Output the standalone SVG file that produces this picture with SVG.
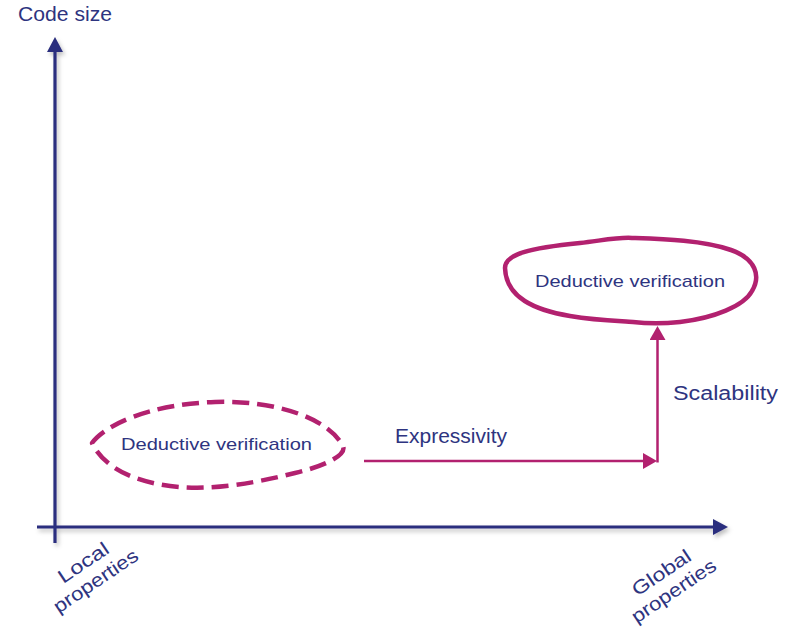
<svg xmlns="http://www.w3.org/2000/svg" width="790" height="631" viewBox="0 0 790 631">
  <style>
    .axis { fill: none; stroke: #2b2f7e; stroke-width: 3.2; }
    .conn { fill: none; stroke: #b2216f; stroke-width: 2.5; }
    .blob { fill: none; stroke: #b2216f; stroke-width: 4.5; stroke-linejoin: round; }
    .dashed { stroke-dasharray: 17 8; }
    .lbl { font-family: "Liberation Sans", Arial, sans-serif; fill: #2e3480; }
  </style>
  <defs>
    <filter id="shadow" x="-10%" y="-10%" width="120%" height="120%">
      <feDropShadow dx="2" dy="3" stdDeviation="2" flood-color="#000" flood-opacity="0.25"/>
    </filter>
    <marker id="axisHead" markerUnits="userSpaceOnUse" markerWidth="16" markerHeight="17" refX="5" refY="8" orient="auto">
      <path d="M0,0 L15,8 L0,16 Z" fill="#2b2f7e"/>
    </marker>
    <marker id="connHead" markerUnits="userSpaceOnUse" markerWidth="16" markerHeight="17" refX="4" refY="8" orient="auto">
      <path d="M0,0 L14,8 L0,16 Z" fill="#b2216f"/>
    </marker>
  </defs>

  <!-- axes -->
  <g id="axes" filter="url(#shadow)">
    <path class="axis" d="M55,543 V47" marker-end="url(#axisHead)"/>
    <path class="axis" d="M37,527 H718" marker-end="url(#axisHead)"/>
  </g>
  <text class="lbl" x="18" y="21" font-size="20" textLength="94" lengthAdjust="spacingAndGlyphs">Code size</text>
  <g id="local-label" transform="translate(87,568) rotate(-34)">
    <text class="lbl" x="0" y="0" font-size="19" text-anchor="middle" textLength="57" lengthAdjust="spacingAndGlyphs">Local</text>
    <text class="lbl" x="0" y="22" font-size="19" text-anchor="middle" textLength="98" lengthAdjust="spacingAndGlyphs">properties</text>
  </g>
  <g id="global-label" transform="translate(665,578) rotate(-34)">
    <text class="lbl" x="0" y="0" font-size="19" text-anchor="middle" textLength="67" lengthAdjust="spacingAndGlyphs">Global</text>
    <text class="lbl" x="0" y="22" font-size="19" text-anchor="middle" textLength="98" lengthAdjust="spacingAndGlyphs">properties</text>
  </g>

  <!-- local deductive verification (dashed outline) -->
  <g id="local-dv">
    <path class="blob dashed" d="M92,443 C105,425 150,404 215,402 C275,400 328,418 343,446 C347,455 325,466 295,473 C255,483 215,490 180,487 C140,484 105,470 92,443 Z"/>
    <text class="lbl" x="121" y="450" font-size="17" textLength="191" lengthAdjust="spacingAndGlyphs">Deductive verification</text>
  </g>

  <!-- global deductive verification (solid outline) -->
  <g id="global-dv">
    <path class="blob" d="M505,268 C505,254 530,248 580,243 C605,240 620,237 632,238 C662,239 702,240 731,250 C756,259 761,276 752,291 C744,306 714,318 680,322 C660,324 642,323 633,322 C624,321 600,321 570,316 C535,310 506,298 505,268 Z"/>
    <text class="lbl" x="535" y="287" font-size="17" textLength="190" lengthAdjust="spacingAndGlyphs">Deductive verification</text>
  </g>

  <!-- connectors -->
  <g id="connectors">
    <path class="conn" d="M364,461 H647" marker-end="url(#connHead)"/>
    <path class="conn" d="M657.5,462.5 V336" marker-end="url(#connHead)"/>
  </g>
  <text class="lbl" x="395" y="443" font-size="20" textLength="112" lengthAdjust="spacingAndGlyphs">Expressivity</text>
  <text class="lbl" x="673" y="400" font-size="20" textLength="105" lengthAdjust="spacingAndGlyphs">Scalability</text>
</svg>
